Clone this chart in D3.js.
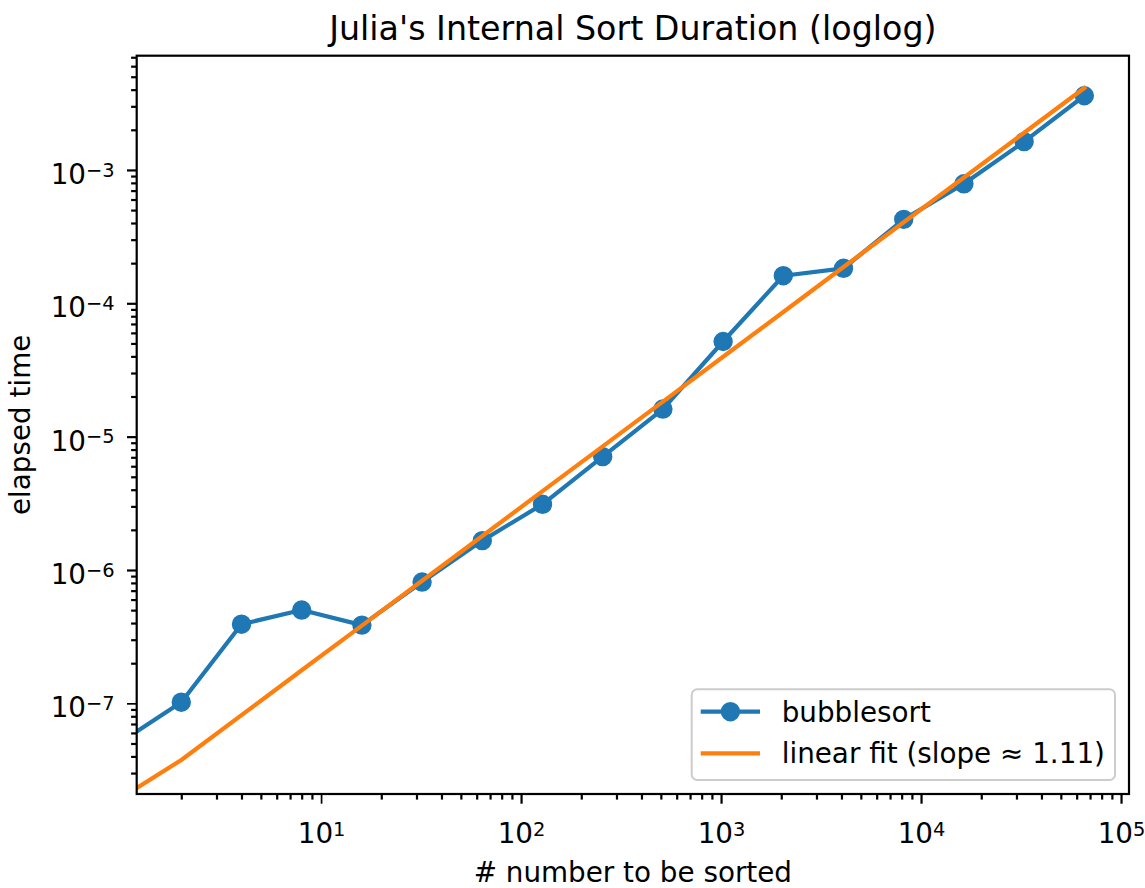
<!DOCTYPE html>
<html>
<head>
<meta charset="utf-8">
<script src="https://cdn.jsdelivr.net/npm/d3@7"></script>
<style>
body { margin: 0; background: #fff; }
text { font-family: "DejaVu Sans", sans-serif; fill: #000; }
</style>
</head>
<body>
<svg id="chart" width="1145" height="888"></svg>
<script>
// sizes of the arrays being sorted
var sizes = [1, 2, 4, 8, 16, 32, 64, 128, 256, 512, 1024, 2048, 4096, 8192, 16384, 32768, 65536]

// measured bubblesort time (s)
var bubble = [5.15e-8, 1.02e-7, 3.92e-7, 5.01e-7, 3.86e-7, 8.12e-7, 1.66e-6, 3.11e-6, 7.08e-6,
  1.61e-5, 5.17e-5, 1.61e-4, 1.83e-4, 4.26e-4, 7.87e-4, 1.63e-3, 3.60e-3]

// the fitted line, read at the same sizes
var fit = [1.95e-8, 3.76e-8, 8.15e-8, 1.77e-7, 3.83e-7, 8.30e-7, 1.80e-6, 3.90e-6, 8.45e-6,
  1.83e-5, 3.97e-5, 8.61e-5, 1.87e-4, 4.05e-4, 8.77e-4, 1.90e-3, 4.12e-3]

var xMajor = [1e1, 1e2, 1e3, 1e4, 1e5]
var yMajor = [1e-7, 1e-6, 1e-5, 1e-4, 1e-3]

var legendLabels = ["bubblesort", "linear fit (slope \u2248 1.11)"]

var blue = "#1f77b4", orange = "#ff7f0e"

var margins = { "top": 55.7, "left": 136.7, "bottom": 94, "right": 16 }
var width = 1145 - margins.left - margins.right
var height = 888 - margins.top - margins.bottom

var svg = d3.select("#chart")

var x = d3.scaleLog().domain([1.197, 109600]).range([margins.left, margins.left + width])
var y = d3.scaleLog().domain([2.09e-8, 7.19e-3]).range([margins.top + height, margins.top])

// minor ticks 2..9 per decade inside the domain
function minors(scale, lo, hi) {
  var out = []
  var d = scale.domain()
  for (var e = lo; e <= hi; e++) {
    for (var k = 2; k < 10; k++) {
      var v = k * Math.pow(10, e)
      if (v >= d[0] && v <= d[1]) out.push(v)
    }
  }
  return out
}

function expLabel(sel, v) {
  var e = Math.round(Math.log10(v))
  sel.text("")
  sel.append("tspan").text("10")
  sel.append("tspan").attr("font-size", "0.7em").attr("dy", "-0.36em")
    .text(e < 0 ? "\u2212" + (-e) : "" + e)
}

var bottom = margins.top + height

// x axis
var gx = svg.append("g").attr("transform", "translate(0," + bottom + ")")
gx.call(d3.axisBottom(x).tickValues(xMajor).tickSize(9.7).tickPadding(9.7))
gx.append("g").call(d3.axisBottom(x).tickValues(minors(x, 0, 5)).tickSize(5.6).tickFormat(""))
gx.selectAll(".domain").remove()
gx.selectAll(".tick line").attr("stroke", "#000")
gx.selectAll("g > .tick line").attr("stroke-width", 2.2)
gx.select("g").selectAll(".tick line").attr("stroke-width", 1.7)
gx.selectAll(".tick text").filter(function(d) { return xMajor.indexOf(d) >= 0 })
  .attr("font-size", 27.8).attr("y", 49).attr("dy", 0)
  .each(function(d) { expLabel(d3.select(this), d) })

// y axis
var gy = svg.append("g").attr("transform", "translate(" + margins.left + ",0)")
gy.call(d3.axisLeft(y).tickValues(yMajor).tickSize(9.7).tickPadding(9.7))
gy.append("g").call(d3.axisLeft(y).tickValues(minors(y, -8, -3)).tickSize(5.6).tickFormat(""))
gy.selectAll(".domain").remove()
gy.selectAll(".tick line").attr("stroke", "#000").attr("stroke-width", 2.2)
gy.select("g").selectAll(".tick line").attr("stroke-width", 1.7)
gy.selectAll(".tick text").filter(function(d) { return yMajor.indexOf(d) >= 0 })
  .attr("font-size", 27.8).attr("dy", "0.48em").attr("x", -22)
  .each(function(d) { expLabel(d3.select(this), d) })

// clip to the axes box
svg.append("clipPath").attr("id", "plotclip")
  .append("rect").attr("x", margins.left).attr("y", margins.top)
  .attr("width", width).attr("height", height)

var plot = svg.append("g").attr("clip-path", "url(#plotclip)")

var line = d3.line().x(d => x(d[0])).y(d => y(d[1]))
var bubblePts = sizes.map((n, i) => [n, bubble[i]])
var fitPts = sizes.map((n, i) => [n, fit[i]])

plot.append("path").datum(bubblePts).attr("d", line)
  .attr("fill", "none").attr("stroke", blue).attr("stroke-width", 4.2)
  .attr("stroke-linejoin", "round").attr("stroke-linecap", "square")

plot.selectAll(".dot").data(bubblePts).enter().append("circle")
  .attr("class", "dot")
  .attr("cx", d => x(d[0])).attr("cy", d => y(d[1])).attr("r", 8.3)
  .attr("fill", blue).attr("stroke", blue).attr("stroke-width", 2.8)

plot.append("path").datum(fitPts).attr("d", line)
  .attr("fill", "none").attr("stroke", orange).attr("stroke-width", 4.2)
  .attr("stroke-linejoin", "round").attr("stroke-linecap", "square")

// frame
svg.append("rect").attr("x", margins.left).attr("y", margins.top)
  .attr("width", width).attr("height", height)
  .attr("fill", "none").attr("stroke", "#000").attr("stroke-width", 2.2)

// title and labels
svg.append("text").attr("x", margins.left + width / 2).attr("y", 40)
  .attr("text-anchor", "middle").attr("font-size", 33.3)
  .text("Julia's Internal Sort Duration (loglog)")

svg.append("text").attr("x", margins.left + width / 2).attr("y", 882)
  .attr("text-anchor", "middle").attr("font-size", 27.8)
  .text("# number to be sorted")

svg.append("text").attr("transform", "translate(30," + (margins.top + height / 2) + ") rotate(-90)")
  .attr("text-anchor", "middle").attr("font-size", 27.8)
  .text("elapsed time")

// legend
var lg = svg.append("g").attr("transform", "translate(691.7,689.3)")
lg.append("rect").attr("width", 423.3).attr("height", 90.7).attr("rx", 5.5)
  .attr("fill", "#fff").attr("fill-opacity", 0.8).attr("stroke", "#cccccc").attr("stroke-width", 2)

var rows = lg.selectAll(".row").data(legendLabels).enter().append("g")
  .attr("class", "row").attr("transform", (d, i) => "translate(0," + (22.4 + i * 41.6) + ")")

rows.append("line").attr("x1", 9).attr("x2", 68.3).attr("y1", 0).attr("y2", 0)
  .attr("stroke", (d, i) => i == 0 ? blue : orange).attr("stroke-width", 4.2)
rows.filter((d, i) => i == 0).append("circle").attr("cx", 38.7).attr("cy", 0).attr("r", 8.3)
  .attr("fill", blue).attr("stroke", blue).attr("stroke-width", 2.8)
rows.append("text").attr("x", 90).attr("dy", "0.36em").attr("font-size", 27.8).text(d => d)
</script>
</body>
</html>
